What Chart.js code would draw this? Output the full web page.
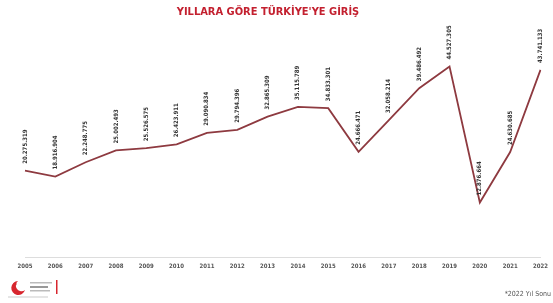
<!DOCTYPE html>
<html>
<head>
<meta charset="utf-8">
<script src="https://cdn.jsdelivr.net/npm/chart.js@4"></script>
<style>
  body { margin: 0; background: #fff; }
  #wrap { position: relative; width: 553px; height: 303px; overflow: hidden; }
  #title { position: absolute; left: 168px; width: 200px; top: 5px; text-align: center;
    font: bold 11px "DejaVu Sans Condensed", sans-serif; color: #c3202f; }
  #logo { position: absolute; left: 6px; top: 277px; width: 60px; height: 22px; }
  #note { position: absolute; right: 2px; top: 290px; font: 7px "DejaVu Sans Condensed", sans-serif; color: #555; }
</style>
</head>
<body>
<div id="wrap">
  <canvas id="myChart" width="553" height="303"></canvas>
  <div id="title">YILLARA GÖRE TÜRKİYE'YE GİRİŞ</div>
  <div id="logo">
    <svg width="60" height="22" viewBox="0 0 60 22">
      <path d="M12 4 A7 7 0 1 0 19 13 A5 5 0 1 1 12 4 Z" fill="#d7262e"/>
      <circle cx="9" cy="7" r="1.6" fill="#d7262e"/>
      <rect x="24" y="5" width="22" height="1.5" fill="#bbb"/>
      <rect x="24" y="9" width="18" height="2" fill="#999"/>
      <rect x="24" y="13" width="20" height="1.5" fill="#bbb"/>
      <rect x="50" y="3" width="1.5" height="14" fill="#d7262e"/>
      <rect x="2" y="19.5" width="40" height="1" fill="#ccc"/>
    </svg>
  </div>
  <div id="note">*2022 Yıl Sonu</div>
</div>
<script>
// years and entries
const years = ["2005", "2006", "2007", "2008", "2009", "2010", "2011", "2012", "2013",
  "2014", "2015", "2016", "2017", "2018", "2019", "2020", "2021", "2022"];
const entries = [20275319, 18916904, 22248775, 25002493, 25526575, 26423911, 29090834,
  29794396, 32865309, 35115789, 34833301, 24666471, 32058214, 39486492, 44527305,
  12876664, 24630685, 43741133];

const fmt = (v) => v.toString().replace(/\B(?=(\d{3})+(?!\d))/g, ".");

// vertical value labels above each point
const valueLabels = {
  id: "valueLabels",
  afterDatasetsDraw(chart) {
    const c = chart.ctx;
    const meta = chart.getDatasetMeta(0);
    c.save();
    c.font = "bold 6px 'DejaVu Sans Condensed', sans-serif";
    c.fillStyle = "#333";
    c.textAlign = "left";
    c.textBaseline = "middle";
    meta.data.forEach((pt, i) => {
      c.save();
      c.translate(pt.x, pt.y - 7);
      c.rotate(-Math.PI / 2);
      c.fillText(fmt(entries[i]), 0, 0);
      c.restore();
    });
    c.restore();
  }
};

const ctx = document.getElementById("myChart").getContext("2d");
new Chart(ctx, {
  type: "line",
  data: {
    labels: years,
    datasets: [{
      data: entries,
      borderColor: "#8e3a40",
      borderWidth: 1.8,
      pointRadius: 0,
      tension: 0,
      fill: false
    }]
  },
  options: {
    responsive: false,
    animation: false,
    layout: { padding: { left: 25, right: 11, top: 43, bottom: 28 } },
    plugins: {
      legend: { display: false },
      tooltip: { enabled: false },
      title: { display: false }
    },
    scales: {
      x: {
        grid: { display: false, drawTicks: false },
        border: { color: "#ddd", dash: [2, 2] },
        ticks: {
          color: "#555",
          font: { family: "'DejaVu Sans Condensed', sans-serif", size: 6, weight: "bold" },
          maxRotation: 0,
          padding: 5
        }
      },
      y: {
        display: false,
        min: 0,
        max: 50000000
      }
    }
  },
  plugins: [valueLabels]
});
</script>
</body>
</html>
